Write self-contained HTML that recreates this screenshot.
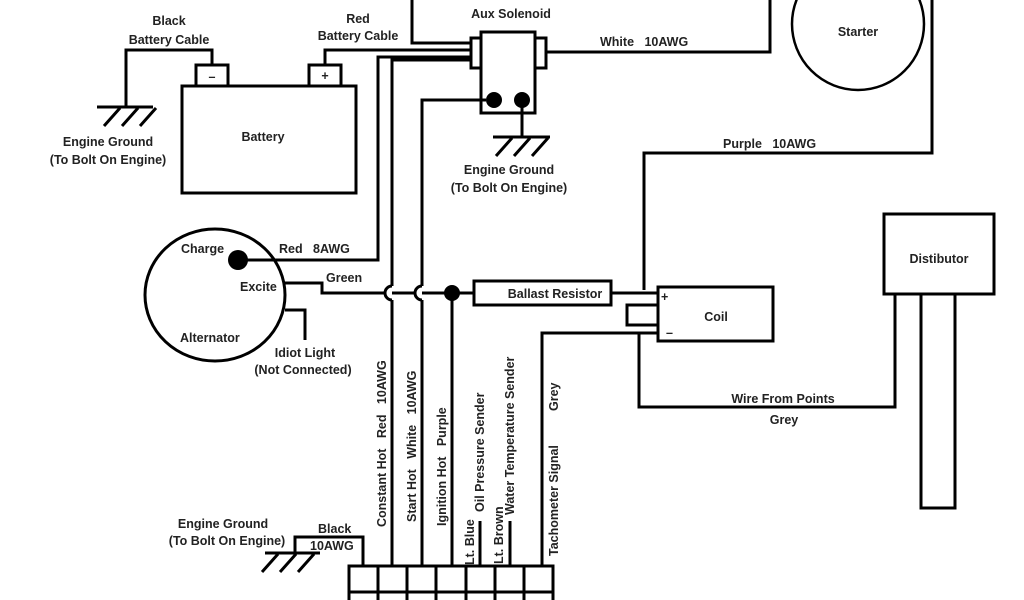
<!DOCTYPE html>
<html><head><meta charset="utf-8"><style>
html,body{margin:0;padding:0;background:#fff;width:1024px;height:600px;overflow:hidden}
svg text{font-family:"Liberation Sans",sans-serif;font-weight:bold;font-size:12.5px;fill:#222;white-space:pre}
</style></head><body>
<svg width="1024" height="600" viewBox="0 0 1024 600" xmlns="http://www.w3.org/2000/svg" xml:space="preserve">
<g fill="none" stroke="#000" stroke-width="3">
<rect x="182" y="86" width="174" height="107"/>
<rect x="196" y="65" width="32" height="21"/>
<rect x="309" y="65" width="32" height="21"/>
<polyline points="212,65 212,50 126,50 126,107"/>
<polyline points="325,65 325,50 471,50"/>
<line x1="97" y1="107" x2="153" y2="107"/>
<polyline points="412,0 412,43 471,43"/>
<rect x="481" y="32" width="54" height="81"/>
<rect x="471" y="38" width="10" height="30"/>
<rect x="535" y="38" width="11" height="30"/>
<polyline points="546,52 770,52 770,0"/>
<polyline points="522,100 522,137"/>
<line x1="493" y1="137" x2="550" y2="137"/>
<circle cx="858" cy="24" r="66" stroke-width="2.5"/>
<polyline points="932,0 932,153 644,153 644,290"/>
<polyline points="471,57 378,57 378,260 238,260"/>
<polyline points="471,60 392,60 392,286"/>
<polyline points="392,300 392,566"/>
<polyline points="486,100 422,100 422,286"/>
<polyline points="422,300 422,566"/>
<polyline points="285,283 322,283 322,293 385,293"/>
<path d="M385,293 A7,7 0 0 1 392,286 M392,300 A7,7 0 0 1 385,293"/>
<line x1="392" y1="293" x2="415" y2="293"/>
<path d="M415,293 A7,7 0 0 1 422,286 M422,300 A7,7 0 0 1 415,293"/>
<line x1="422" y1="293" x2="474" y2="293"/>
<line x1="452" y1="293" x2="452" y2="566"/>
<rect x="474" y="281" width="137" height="24"/>
<line x1="611" y1="293" x2="658" y2="293"/>
<ellipse cx="215" cy="295" rx="70" ry="66"/>
<polyline points="285,310 305,310 305,340"/>
<rect x="658" y="287" width="115" height="54"/>
<rect x="627" y="305" width="31" height="20"/>
<polyline points="658,333 542,333 542,566"/>
<polyline points="639,333 639,407 895,407 895,294"/>
<rect x="884" y="214" width="110" height="80"/>
<rect x="921" y="294" width="34" height="214"/>
<line x1="480" y1="521" x2="480" y2="566"/>
<line x1="510" y1="521" x2="510" y2="566"/>
<polyline points="363,566 363,537 295,537 295,553"/>
<line x1="265" y1="553" x2="320" y2="553"/>
<rect x="349" y="566" width="204" height="40"/>
<line x1="349" y1="592" x2="553" y2="592"/>
<line x1="378" y1="566" x2="378" y2="600"/><line x1="407" y1="566" x2="407" y2="600"/>
<line x1="436" y1="566" x2="436" y2="600"/><line x1="466" y1="566" x2="466" y2="600"/>
<line x1="495" y1="566" x2="495" y2="600"/><line x1="524" y1="566" x2="524" y2="600"/>
</g>
<g stroke="#000" stroke-width="3">
<line x1="120" y1="108" x2="104" y2="126"/><line x1="138" y1="108" x2="122" y2="126"/><line x1="156" y1="108" x2="140" y2="126"/>
<line x1="512" y1="138" x2="496" y2="156"/><line x1="530" y1="138" x2="514" y2="156"/><line x1="548" y1="138" x2="532" y2="156"/>
<line x1="278" y1="554" x2="262" y2="572"/><line x1="296" y1="554" x2="280" y2="572"/><line x1="314" y1="554" x2="298" y2="572"/>
</g>
<g fill="#000">
<circle cx="494" cy="100" r="8"/><circle cx="522" cy="100" r="8"/>
<circle cx="238" cy="260" r="10"/><circle cx="452" cy="293" r="8"/>
</g>
<g text-anchor="middle">
<text x="169" y="25">Black</text><text x="169" y="44">Battery Cable</text>
<text x="358" y="23">Red</text><text x="358" y="40">Battery Cable</text>
<text x="212" y="81" font-size="14">–</text><text x="325" y="80">+</text>
<text x="263" y="141">Battery</text>
<text x="108" y="146">Engine Ground</text><text x="108" y="164">(To Bolt On Engine)</text>
<text x="511" y="18">Aux Solenoid</text>
<text x="509" y="174">Engine Ground</text><text x="509" y="192">(To Bolt On Engine)</text>
<text x="858" y="36">Starter</text>
<text x="939" y="263">Distibutor</text>
<text x="716" y="321">Coil</text>
<text x="555" y="298">Ballast Resistor</text>
<text x="783" y="403">Wire From Points</text>
<text x="784" y="424">Grey</text>
<text x="305" y="357">Idiot Light</text>
<text x="303" y="374">(Not Connected)</text>
<text x="223" y="528">Engine Ground</text><text x="227" y="545">(To Bolt On Engine)</text>
</g>
<text x="600" y="46">White   10AWG</text>
<text x="723" y="148">Purple   10AWG</text>
<text x="181" y="253">Charge</text>
<text x="279" y="253">Red   8AWG</text>
<text x="240" y="291">Excite</text>
<text x="326" y="282">Green</text>
<text x="180" y="342">Alternator</text>
<text x="318" y="533">Black</text>
<text x="310" y="550">10AWG</text>
<text x="661" y="301" font-size="11">+</text>
<text x="666" y="337" font-size="12">–</text>
<g>
<text transform="translate(386,527) rotate(-90)">Constant Hot   Red   10AWG</text>
<text transform="translate(416,522) rotate(-90)">Start Hot   White   10AWG</text>
<text transform="translate(446,526) rotate(-90)">Ignition Hot   Purple</text>
<text transform="translate(474,565) rotate(-90)">Lt. Blue</text>
<text transform="translate(484,512) rotate(-90)">Oil Pressure Sender</text>
<text transform="translate(503,564) rotate(-90)">Lt. Brown</text>
<text transform="translate(514,515) rotate(-90)">Water Temperature Sender</text>
<text transform="translate(558,556) rotate(-90)">Tachometer Signal</text>
<text transform="translate(558,411) rotate(-90)">Grey</text>
</g>
</svg>
</body></html>
